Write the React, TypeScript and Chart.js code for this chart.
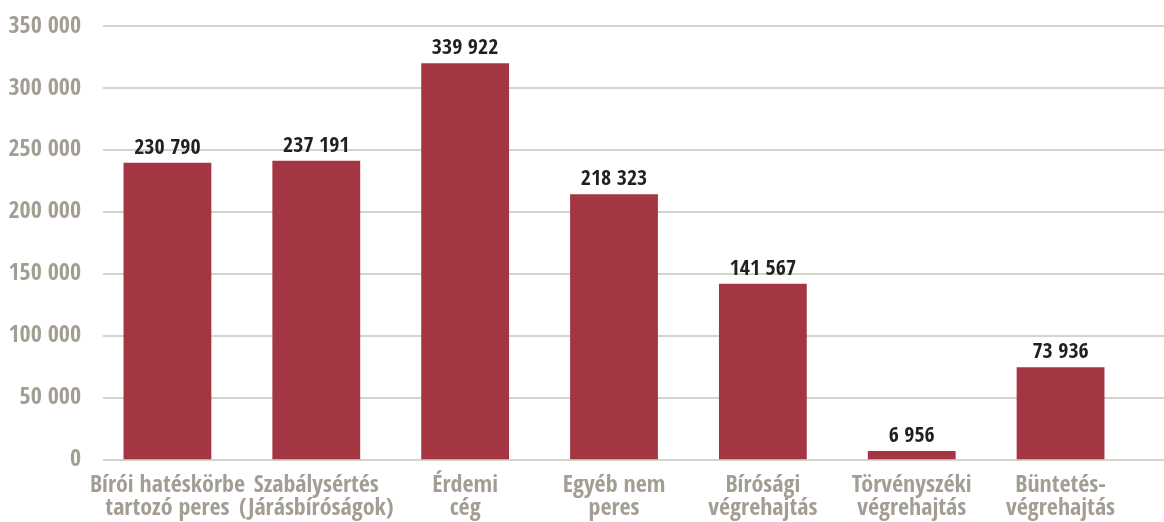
import React, { useEffect, useRef } from "react";
import { Chart, registerables } from "chart.js";

Chart.register(...registerables);

const categories: string[][] = [
  ["Bírói hatéskörbe", "tartozó peres"],
  ["Szabálysértés", "(Járásbíróságok)"],
  ["Érdemi", "cég"],
  ["Egyéb nem", "peres"],
  ["Bírósági", "végrehajtás"],
  ["Törvényszéki", "végrehajtás"],
  ["Büntetés-", "végrehajtás"],
];
const barValues: number[] = [239900, 241500, 320300, 214300, 142100, 6900, 74600];
const valueLabels: string[] = ["230 790", "237 191", "339 922", "218 323", "141 567", "6 956", "73 936"];

const FONT = "'Open Sans Condensed', 'Roboto Condensed', sans-serif";
const BAR_COLOR = "#a43644";
const TICK_COLOR = "#a39e93";
const GRID_COLOR = "#d4d4c8";

const fmt = (v: number) => String(v).replace(/\B(?=(\d{3})+(?!\d))/g, " ");

export default function App() {
  const ref = useRef<HTMLCanvasElement | null>(null);

  useEffect(() => {
    if (!ref.current) return;
    const gridPlugin = {
      id: "customGrid",
      beforeDatasetsDraw(chart: any) {
        const ctx = chart.ctx;
        const y = chart.scales.y;
        ctx.save();
        ctx.strokeStyle = GRID_COLOR;
        ctx.lineWidth = 2;
        y.ticks.forEach((t: any) => {
          const py = Math.round(y.getPixelForValue(t.value));
          ctx.beginPath();
          ctx.moveTo(103, py);
          ctx.lineTo(1164, py);
          ctx.stroke();
        });
        ctx.restore();
      },
    };
    const labelPlugin = {
      id: "valueLabels",
      afterDatasetsDraw(chart: any) {
        const ctx = chart.ctx;
        const meta = chart.getDatasetMeta(0);
        ctx.save();
        ctx.fillStyle = "#231f20";
        ctx.font = `bold 22px ${FONT}`;
        ctx.textAlign = "center";
        ctx.textBaseline = "alphabetic";
        meta.data.forEach((bar: any, i: number) => {
          ctx.fillText(valueLabels[i], bar.x, bar.y - 9);
        });
        ctx.restore();
      },
    };
    const chart = new Chart(ref.current, {
      type: "bar",
      data: {
        labels: categories,
        datasets: [
          {
            data: barValues,
            backgroundColor: BAR_COLOR,
            barPercentage: 0.59,
            categoryPercentage: 1,
          },
        ],
      },
      options: {
        animation: false,
        responsive: true,
        maintainAspectRatio: false,
        layout: { padding: { top: 24, right: 29, left: 0, bottom: 0 } },
        plugins: { legend: { display: false }, tooltip: { enabled: false } },
        scales: {
          x: {
            grid: { display: false },
            border: { display: false },
            ticks: {
              color: TICK_COLOR,
              font: { family: FONT, weight: "bold", size: 24, lineHeight: 0.98 },
              padding: 6,
              maxRotation: 0,
              autoSkip: false,
            },
            afterFit: (s: any) => {
              s.height = 62.5;
            },
          },
          y: {
            min: 0,
            max: 350000,
            grid: { display: false, drawTicks: false },
            border: { display: false },
            ticks: {
              stepSize: 50000,
              color: TICK_COLOR,
              font: { family: FONT, weight: "bold", size: 24 },
              padding: 12,
              callback: (v: any) => fmt(Number(v)),
            },
            afterFit: (s: any) => {
              s.width = 93;
            },
          },
        },
      },
      plugins: [gridPlugin, labelPlugin],
    });
    return () => chart.destroy();
  }, []);

  return (
    <div style={{ position: "absolute", left: 0, top: 0, width: 1164, height: 522, background: "#fff" }}>
      <canvas ref={ref} />
    </div>
  );
}
